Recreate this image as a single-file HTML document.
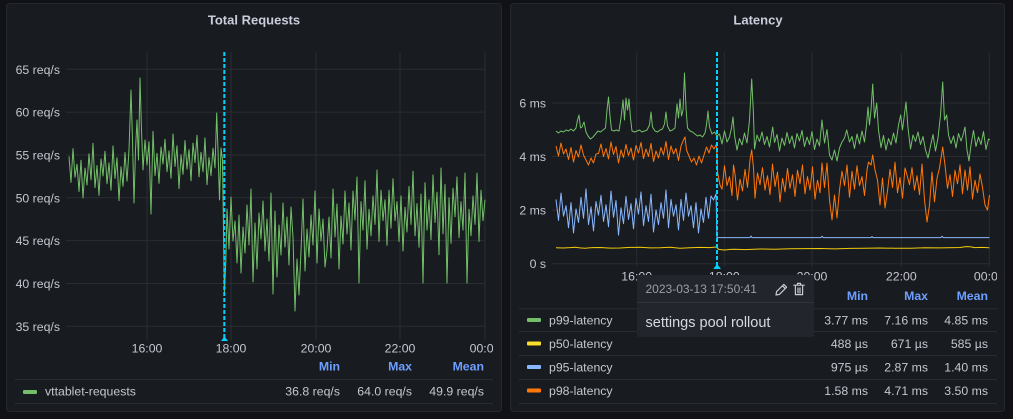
<!DOCTYPE html>
<html><head><meta charset="utf-8">
<style>
html,body{margin:0;padding:0;background:#111217;width:1013px;height:419px;overflow:hidden;}
svg{display:block;font-family:"Liberation Sans",Arial,sans-serif;}
.t{fill:#c6c6d1;font-size:12.3px;}
.h{fill:#6e9fff;font-size:12.3px;font-weight:bold;}
.g{stroke:#2a2c32;stroke-width:1;}
</style></head><body>
<svg width="1013" height="419" viewBox="0 0 1013 419" xmlns="http://www.w3.org/2000/svg">
<defs>
<clipPath id="c1"><rect x="66" y="45" width="420" height="300"/></clipPath>
<clipPath id="c2"><rect x="552" y="45" width="438" height="225"/></clipPath>
<clipPath id="cx1"><rect x="0" y="0" width="493" height="419"/></clipPath>
<clipPath id="cx2"><rect x="0" y="0" width="997" height="419"/></clipPath>
</defs>
<rect width="1013" height="419" fill="#111217"/>
<rect x="6.5" y="3.5" width="495" height="408" rx="3" fill="#181b1f" stroke="#25272c"/>
<rect x="510.5" y="3.5" width="494" height="408" rx="3" fill="#181b1f" stroke="#25272c"/>
<text x="254" y="24.5" text-anchor="middle" font-size="13" font-weight="bold" fill="#ccccdc">Total Requests</text>
<text x="758" y="24.5" text-anchor="middle" font-size="13" font-weight="bold" fill="#ccccdc">Latency</text>

<!-- LEFT GRID -->
<g class="g">
<line x1="66" x2="485" y1="69.3" y2="69.3"/>
<line x1="66" x2="485" y1="112.1" y2="112.1"/>
<line x1="66" x2="485" y1="155" y2="155"/>
<line x1="66" x2="485" y1="197.8" y2="197.8"/>
<line x1="66" x2="485" y1="240.6" y2="240.6"/>
<line x1="66" x2="485" y1="283.5" y2="283.5"/>
<line x1="66" x2="485" y1="326.3" y2="326.3"/>
<line x1="147" x2="147" y1="52" y2="340"/>
<line x1="231" x2="231" y1="52" y2="340"/>
<line x1="316" x2="316" y1="52" y2="340"/>
<line x1="400" x2="400" y1="52" y2="340"/>
<line x1="485" x2="485" y1="52" y2="340"/>
</g>
<g class="t" text-anchor="end">
<text x="60" y="73.8">65 req/s</text>
<text x="60" y="116.6">60 req/s</text>
<text x="60" y="159.5">55 req/s</text>
<text x="60" y="202.3">50 req/s</text>
<text x="60" y="245.1">45 req/s</text>
<text x="60" y="288">40 req/s</text>
<text x="60" y="330.8">35 req/s</text>
</g>
<g class="t" text-anchor="middle" clip-path="url(#cx1)">
<text x="147" y="352.5">16:00</text>
<text x="231" y="352.5">18:00</text>
<text x="316" y="352.5">20:00</text>
<text x="400" y="352.5">22:00</text>
<text x="485" y="352.5">00:00</text>
</g>
<polyline fill="none" stroke="#73bf69" stroke-width="1" stroke-linejoin="round" clip-path="url(#c1)" points="
69,156.4 71,182.4 73,148.6 75,177.2 77,164.2 79,191.5 81,160.3 83,198 85,168.1 87,185 89,153.8 91,179.8 93,143.4 95,187.6 97,165.5 99,195.4 101,159 103,175.9 105,151.2 107,183.7 109,162.9 111,190.2 113,146 115,178.5 117,157.7 119,200.6 121,166.8 123,186.3 125,152.5 127,181.1
129,150 131,90 132.5,140 134,203 135.5,150 137,120 138.5,160 140,78 141.5,130 143,170 145,140 147,165
149,141.8 151,214 153,131.4 155,175.6 157,153.5 159,183.4 161,147 163,163.9 165,139.2 167,171.7 169,150.9 171,178.2 173,134 175,166.5 177,145.7 179,188.6 181,154.8 183,174.3 185,140.5 187,169.1 189,149.6 191,180.8 193,143.1 195,162.6 197,135.3 199,176.9 201,152.2 203,171.7 205,137.9 207,184.7 209,157.4 211,175.6 213,148.3 215,167.8 216.7,113 218,150 219.5,200 221,148 222.5,160 224.4,293 225.8,262
227,209 229,249 231,197 233,241 235,221 237,263 239,215 241,273 243,227 245,253 247,205 249,245 251,189 253,282 255,223 257,269 259,213 261,239 263,201 265,251 267,219 269,261 271,193 273,294 275,211 277,277 279,225 281,255 283,203 285,247 287,217 289,265 291,207 293,237 295,311 297,259 299,295 301,251 303,199 305,271 307,229 309,257 311,215 313,245 315,191 317,263 319,209 321,241 323,219 325,267
327,250 329,217 331,258 333,189 335,237 337,204 339,269 341,216 343,244 345,191 347,234 349,203 351,250 353,191 355,220 357,177 359,283
361,201.6 363,230.1 365,180.7 367,249.1 369,209.2 371,235.8 373,195.9 375,224.4 377,170 379,241.5 381,190.2 383,220.6 385,199.7 387,245.3 389,190.2 391,228.2 393,178.8 395,220.6 397,201.6 399,241.5 401,195.9 403,251 405,207.3 407,232 409,186.4 411,224.4 413,171.2 415,235.8 417,203.5 419,247.2 421,194 423,283 425,182.6 427,230.1 429,199.7 431,239.6 433,175 435,222.5 437,192.1 439,254.8 441,168 443,233.9 445,184.5 447,283 449,197.8 451,243.4 453,188.3 455,216.8 457,176.9 459,237.7 461,201.6 463,230.1 465,173 467,283 469,209.2 471,235.8 473,195.9 475,224.4 477,173.1 479,241.5 481,190.2 483,220.6 485,199.7"/>
<line x1="224.3" x2="224.3" y1="52" y2="338" stroke="#00d3ff" stroke-width="2" stroke-dasharray="4 2"/>
<polygon points="221,341 228,341 224.5,336.5" fill="#00d3ff"/>

<!-- LEFT LEGEND -->
<g class="h" text-anchor="end">
<text x="340" y="370.5">Min</text>
<text x="412" y="370.5">Max</text>
<text x="484" y="370.5">Mean</text>
</g>
<line x1="15" x2="493" y1="379.5" y2="379.5" class="g"/>
<line x1="15" x2="493" y1="403.5" y2="403.5" class="g"/>
<rect x="23" y="390" width="14" height="4" rx="1" fill="#73bf69"/>
<text class="t" x="45" y="395.5">vttablet-requests</text>
<g class="t" text-anchor="end">
<text x="340" y="395.5">36.8 req/s</text>
<text x="412" y="395.5">64.0 req/s</text>
<text x="484" y="395.5">49.9 req/s</text>
</g>

<!-- RIGHT GRID -->
<g class="g">
<line x1="552" x2="989" y1="103" y2="103"/>
<line x1="552" x2="989" y1="156.5" y2="156.5"/>
<line x1="552" x2="989" y1="210.2" y2="210.2"/>
<line x1="552" x2="989" y1="263.7" y2="263.7"/>
<line x1="636.7" x2="636.7" y1="52" y2="267"/>
<line x1="724.3" x2="724.3" y1="52" y2="267"/>
<line x1="812" x2="812" y1="52" y2="267"/>
<line x1="901.3" x2="901.3" y1="52" y2="267"/>
<line x1="989.3" x2="989.3" y1="52" y2="267"/>
</g>
<g class="t" text-anchor="end">
<text x="546" y="107.5">6 ms</text>
<text x="546" y="161">4 ms</text>
<text x="546" y="214.7">2 ms</text>
<text x="546" y="268.2">0 s</text>
</g>
<g class="t" text-anchor="middle" clip-path="url(#cx2)">
<text x="636.7" y="280.5">16:00</text>
<text x="724.3" y="280.5">18:00</text>
<text x="812" y="280.5">20:00</text>
<text x="901.3" y="280.5">22:00</text>
<text x="989.3" y="280.5">00:00</text>
</g>
<g clip-path="url(#c2)" fill="none" stroke-width="1" stroke-linejoin="round">
<polyline stroke="#f2cc0c" points="556,247.7 563,248 570,247.6 575,247.2 580,247.9 585,248.2 592,247.6 600,247.5 610,248.1 620,248 630,247.4 640,247.3 650,247.9 660,247.8 670,247.3 680,248.3 690,247.8 700,247.4 710,247.6 716,247 719,249.5 725,250 730,249.4 735,249.2 745,249.6 760,249 775,249.2 790,248.8 805,248.6 820,248.5 835,248.9 850,248.4 865,248.2 880,248 895,248.3 910,248.2 925,247.8 940,247.9 955,247.6 960,247.5 966,246.6 970,246.8 975,247.6 982,247.4 989.3,247.8"/>
<polyline stroke="#8ab8ff" points="
556,199.4 558.5,220.4 561,193.1 563.5,216.2 566,205.7 568.5,227.8 571,202.6 573.5,233 576,208.9 578.5,222.5 581,197.3 583.5,218.3 586,188.9 588.5,224.6 591,206.8 593.5,230.9 596,201.5 598.5,215.2 601,195.2 603.5,221.5 606,204.7 608.5,226.7 611,191 613.5,217.3 616,200.5 618.5,235.1 621,207.8 623.5,223.6 626,196.3 628.5,219.4 631,203.6 633.5,228.8 636,198.4 638.5,214.1 641,192 643.5,225.7 646,205.7 648.5,221.5 651,194.2 653.5,232 656,209.9 658.5,224.6 661,202.6 663.5,218.3 666,190 668.5,227.8 671,199.4 673.5,216.2 676,204.7 678.5,229.9 681,199.4 683.5,220.4 686,193.1 688.5,216.2 691,205.7 693.5,227.8 696,202.6 698.5,233 701,208.9 703.5,222.5 706,197.3 708.5,218.3 711,196 713.5,200 716,194 717,237.6
750,237.6 751,236 752,237.6 821,237.6 822,236.3 823.5,237.6 871,237.6 872,236.5 873,237.6 941,237.6 942,236.3 943.5,237.6 989.3,237.6"/>
<polyline stroke="#ff780a" points="
556,146 558.5,156 561,143 563.5,154 566,149 568.5,159.5 571,147.5 573.5,162 576,150.5 578.5,157 581,145 583.5,155 586,160 588.5,165 591,158 593.5,163 596,154 598.5,153.5 601,144 603.5,156.5 606,148.5 608.5,159 611,142 613.5,154.5 616,146.5 618.5,163 621,150 623.5,157.5 626,144.5 628.5,155.5 631,148 633.5,160 636,145.5 638.5,153 641,142.5 643.5,158.5 646,149 648.5,156.5 651,143.5 653.5,161.5 656,151 658.5,158 661,147.5 663.5,155 666,141.5 668.5,159.5 671,146 673.5,154 676,148.5 678.5,160.5 681,146 683.5,140 685,137 686.5,150 689,156 691.5,162 694,158 696.5,165 699,156 701.5,163 704,155 706.5,147 709,153 711.5,145 714,149 716.5,144 717.5,172
720,185 722,189.2 724.5,165.8 727,185.6 729.5,176.6 732,195.5 733.5,165 735,173.9 737.5,200 740,179.3 742.5,191 745,169.4 747.5,187.4 750,160 751.7,150 753.5,168 755,198.2 757.5,173 760,184.7 762.5,167.6 765,190.1 767.5,175.7 770,194.6 772.5,164 775,186.5 777.5,172.1 780,201.8 782.5,178.4 785,191.9 787.5,168.5 790,188.3 792.5,174.8 795,196.4 797.5,170.3 800,183.8 802.5,164.9 805,193.7 807.5,176.6 810,190.1 812.5,166.7 815,199.1 817.5,180.2 820,192.8 822,163 824.5,187.4 827,163.1 829.5,200 832,220 834.5,195 837,218 839.5,190 842,171.2 844.5,185.6 847,165 849.5,197.3 852,171.2 854.5,189.2 857,165.8 859.5,185.6 862,176.6 864.5,195.5 867,170 868.5,162 871,165 872.7,155 875,170 877.5,180 880,205 882.5,178 885,208 887.5,191 890,169.4 892.5,187.4 895,162.2 897.5,192.8 900,177.5 902.5,198.2 905,168 907,175 909.5,184.7 912,167.6 914.5,190.1 917,175.7 919.5,194.6 922,164 924.5,200 927,222 929.5,205 932,172.1 934.5,201.8 937,178.4 939.5,168 942.7,147 945,165 947.5,188.3 950,174.8 952.5,196.4 955,170.3 957.5,183.8 960,164.9 962.5,193.7 965,170 967.5,190.1 970,166.7 972.5,199.1 975,180.2 977.5,192.8 980,173.9 982.5,187.4 985,205 987.5,210 989.5,195"/>
<polyline stroke="#73bf69" points="
556,131 558.5,133 561,131 563.5,132 566,130 568.5,131 571,129 573.5,131 576,128 577.5,120 579,115 580.5,128 582,127 584,122 586,132 588,136 590.5,139 593,137 595.5,134 598,131 600.5,132 603,130 605.5,128 607,110 608.5,97 610,116 611.5,130 614,131 616.5,130 619,131 621,118 623,100 624.5,120 626,98 627.5,110 629,99 630.5,118 632,131 634.5,132 637,131 639.5,130 642,132 644.5,131 647,130 649.5,125 651,112 652.5,127 655,131 657.5,132 660,130 662.5,129 664.5,124 666,112 667.5,126 670,131 672.5,130 675,128 677,104 678.5,118 680,99 681.5,116 683,110 684.5,73 686,108 687.5,128 690,131 692.5,132 695,134 697.5,136 700,135 702.5,137 705,133 706.5,125 708,111 709.5,127 712,134 714.5,132 717,136
719.5,134 722,144 724.5,131 727,142 729.5,137 731.5,128 733,117 734.5,135.5 737,150 739.5,138.5 742,145 744.5,133 747,143 749.5,120 751.7,79 753.5,115 754.5,149 757,135 759.5,141.5 762,132 764.5,144.5 767,136.5 769.5,147 772.7,127 774.5,142.5 777,134.5 779.5,151 782,138 784.5,145.5 787,132.5 789.5,143.5 792,136 794.5,148 797,133.5 799.5,141 802,130.5 804.5,146.5 807,137 809.5,144.5 812,131.5 814.5,149.5 817,139 819.5,146 822,120 824.5,143 827,129.5 829.5,155 832,160 834.5,150 837,161 839.5,148 842,142 844.5,138 846.7,130 849.5,142 852,136.5 854.5,148.5 857,134 859.5,144 862,131 864.5,142 866.5,125 868,107 869.5,125 871,110 872.7,84 874.5,118 876.7,103 878.5,130 881,147.5 883.5,135.5 886,150 888.5,138.5 891,145 893.5,133 896,143 898.5,125 900.7,115 902.5,130 904,118 906,102 908,128 910.5,149 913,135 915.5,141.5 918,132 920.5,144.5 923,136.5 925.5,150 928,158 930.5,146 933,134.5 935.5,151 938,138 940.5,115 942.7,82 944.5,120 946.7,115 948.5,135 951,143.5 953.5,136 956,148 958.5,133.5 961,141 963,135 965,127 967,150 969,161 971,145 973.5,130.5 976,146.5 978.5,137 981,144.5 983.5,131.5 986,149.5 988.5,139 990,140"/>
</g>
<line x1="717" x2="717" y1="52" y2="265" stroke="#00d3ff" stroke-width="2" stroke-dasharray="4 2"/>
<polygon points="713.3,269 721,269 717,264" fill="#00d3ff"/>

<!-- RIGHT LEGEND -->
<g class="h" text-anchor="end">
<text x="868" y="300">Min</text>
<text x="928" y="300">Max</text>
<text x="988" y="300">Mean</text>
</g>
<g class="g">
<line x1="519" x2="997" y1="308.7" y2="308.7"/>
<line x1="519" x2="997" y1="331.5" y2="331.5"/>
<line x1="519" x2="997" y1="355.5" y2="355.5"/>
<line x1="519" x2="997" y1="379.5" y2="379.5"/>
<line x1="519" x2="997" y1="403.5" y2="403.5"/>
</g>
<rect x="527" y="318" width="14" height="4" rx="1" fill="#73bf69"/>
<rect x="527" y="341.5" width="14" height="4" rx="1" fill="#fade2a"/>
<rect x="527" y="365" width="14" height="4" rx="1" fill="#8ab8ff"/>
<rect x="527" y="388.5" width="14" height="4" rx="1" fill="#ff780a"/>
<g class="t">
<text x="549" y="324.3">p99-latency</text>
<text x="549" y="347.8">p50-latency</text>
<text x="549" y="371.3">p95-latency</text>
<text x="549" y="394.8">p98-latency</text>
</g>
<g class="t" text-anchor="end">
<text x="868" y="324.3">3.77 ms</text><text x="928" y="324.3">7.16 ms</text><text x="988" y="324.3">4.85 ms</text>
<text x="868" y="347.8">488 µs</text><text x="928" y="347.8">671 µs</text><text x="988" y="347.8">585 µs</text>
<text x="868" y="371.3">975 µs</text><text x="928" y="371.3">2.87 ms</text><text x="988" y="371.3">1.40 ms</text>
<text x="868" y="394.8">1.58 ms</text><text x="928" y="394.8">4.71 ms</text><text x="988" y="394.8">3.50 ms</text>
</g>

<!-- TOOLTIP -->
<rect x="637" y="275" width="177" height="62" rx="2" fill="#22252b"/>
<line x1="637" x2="814" y1="302.5" y2="302.5" stroke="#2f3238"/>
<text x="645.5" y="293.2" font-size="12" fill="#9d9ea8">2023-03-13 17:50:41</text>
<g fill="none" stroke="#c8c9d2" stroke-width="1.2" stroke-linejoin="round" stroke-linecap="round">
<path d="M776,295 L776.6,291.6 L783.8,284.4 L786.6,287.2 L779.4,294.4 Z M782.4,285.8 L785.2,288.6"/>
<path d="M793.8,285.2 H804.2 M797.4,285.2 V283.4 H800.6 V285.2 M795.4,286.2 V294.6 H802.6 V286.2 M798,288 V293 M800,288 V293"/>
</g>
<text x="645.5" y="327" font-size="14.5" fill="#d8d9e0">settings pool rollout</text>
</svg>
</body></html>
